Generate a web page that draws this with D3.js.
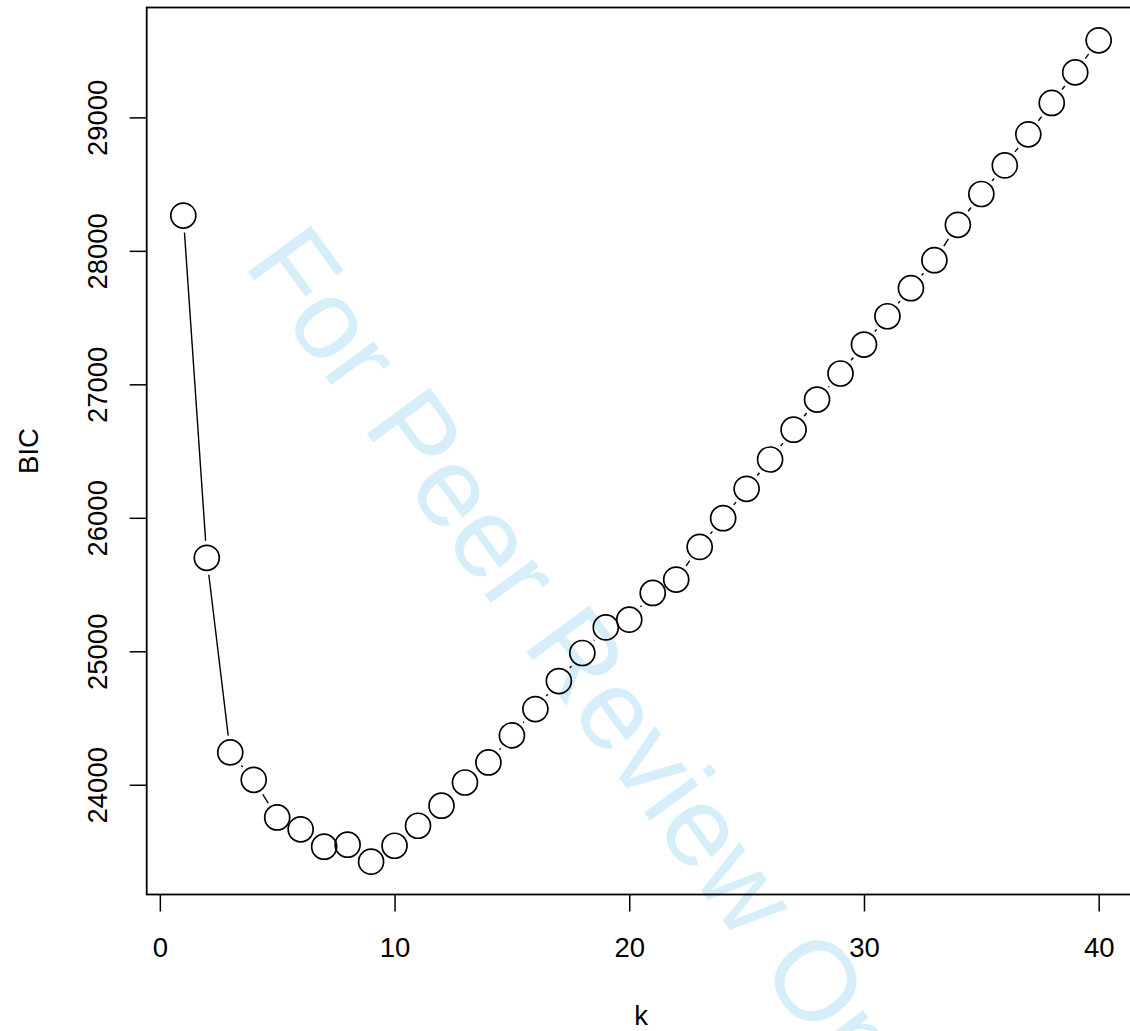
<!DOCTYPE html>
<html>
<head>
<meta charset="utf-8">
<script src="https://cdn.jsdelivr.net/npm/d3@7"></script>
<style>
  html, body { margin: 0; padding: 0; background: #ffffff; }
  svg { display: block; }
</style>
</head>
<body>
<div id="chart"></div>
<script>
// ---- data ----
const kValues = [1,2,3,4,5,6,7,8,9,10,11,12,13,14,15,16,17,18,19,20,21,22,23,24,25,26,27,28,29,30,31,32,33,34,35,36,37,38,39,40];
const bicValues = [28264,25700,24242,24037,23755,23666,23536,23551,23424,23543,
                   23693,23843,24017,24167,24370,24567,24777,24987,25179,25237,
                   25437,25537,25782,25997,26217,26437,26660,26886,27081,27298,
                   27510,27720,27930,28195,28426,28640,28873,29108,29337,29577];
const xTicks = [0,10,20,30,40];
const yTicks = [24000,25000,26000,27000,28000,29000];
const xLabel = "k";
const yLabel = "BIC";
const watermark = "For Peer Review Only";

// ---- layout ----
const W = 1130, H = 1031;
const plot = {left: 146.7, right: 1135.3, top: 7.5, bottom: 894.5};
const font = "'Liberation Sans', Arial, Helvetica, sans-serif";
const fs = 27.5;

const svg = d3.select("#chart").append("svg")
  .attr("width", W).attr("height", H);

// R-style 4% padding
const xr = d3.extent(kValues), yr = d3.extent(bicValues);
const xp = (xr[1]-xr[0])*0.04, yp = (yr[1]-yr[0])*0.04;
const x = d3.scaleLinear().domain([xr[0]-xp, xr[1]+xp]).range([plot.left, plot.right]);
const y = d3.scaleLinear().domain([yr[0]-yp, yr[1]+yp]).range([plot.bottom, plot.top]);

// watermark (behind)
svg.append("text")
  .attr("transform", "translate(242.8,264.2) rotate(53.8)")
  .attr("font-family", font)
  .attr("font-size", 113)
  .attr("fill", "#d5eefa")
  .text(watermark);

// box
svg.append("rect")
  .attr("x", plot.left).attr("y", plot.top)
  .attr("width", plot.right-plot.left).attr("height", plot.bottom-plot.top)
  .attr("fill", "none").attr("stroke", "#000").attr("stroke-width", 1.8);

// x axis
const gx = svg.append("g").attr("transform", `translate(0,${plot.bottom})`)
  .call(d3.axisBottom(x).tickValues(xTicks).tickSize(17).tickFormat(d3.format("d")));
gx.select(".domain").remove();
gx.selectAll(".tick line").attr("stroke", "#000").attr("stroke-width", 1.5);
gx.selectAll(".tick text")
  .attr("y", 62.3).attr("dy", null)
  .attr("font-family", font).attr("font-size", fs).attr("fill", "#000");

// y axis
const gy = svg.append("g").attr("transform", `translate(${plot.left},0)`)
  .call(d3.axisLeft(y).tickValues(yTicks).tickSize(17).tickFormat(d3.format("d")));
gy.select(".domain").remove();
gy.selectAll(".tick line").attr("stroke", "#000").attr("stroke-width", 1.5);
gy.selectAll(".tick text")
  .attr("x", 0).attr("y", -39.4).attr("dy", null)
  .attr("transform", "rotate(-90)")
  .attr("text-anchor", "middle")
  .attr("font-family", font).attr("font-size", fs).attr("fill", "#000");

// axis titles
svg.append("text")
  .attr("x", (plot.left+plot.right)/2).attr("y", 1025)
  .attr("text-anchor", "middle")
  .attr("font-family", font).attr("font-size", fs).attr("fill", "#000")
  .text(xLabel);
svg.append("text")
  .attr("transform", `translate(37.7,${(plot.top+plot.bottom)/2}) rotate(-90)`)
  .attr("text-anchor", "middle")
  .attr("font-family", font).attr("font-size", fs).attr("fill", "#000")
  .text(yLabel);

// type = "b" : line segments with gaps around points
const pts = kValues.map((k,i) => [x(k), y(bicValues[i])]);
const gap = 17;
const segs = [];
for (let i = 0; i < pts.length-1; i++) {
  const [x1,y1] = pts[i], [x2,y2] = pts[i+1];
  const dx = x2-x1, dy = y2-y1, d = Math.hypot(dx,dy);
  if (d > 2*gap) {
    const ux = dx/d, uy = dy/d;
    segs.push([x1+ux*gap, y1+uy*gap, x2-ux*gap, y2-uy*gap]);
  }
}
svg.append("g").selectAll("line").data(segs).join("line")
  .attr("x1", d=>d[0]).attr("y1", d=>d[1]).attr("x2", d=>d[2]).attr("y2", d=>d[3])
  .attr("stroke", "#000").attr("stroke-width", 1.4);

svg.append("g").selectAll("circle").data(kValues).join("circle")
  .attr("cx", (d,i) => x(d)).attr("cy", (d,i) => y(bicValues[i]))
  .attr("r", 12.5)
  .attr("fill", "none").attr("stroke", "#000").attr("stroke-width", 1.7);
</script>
</body>
</html>
